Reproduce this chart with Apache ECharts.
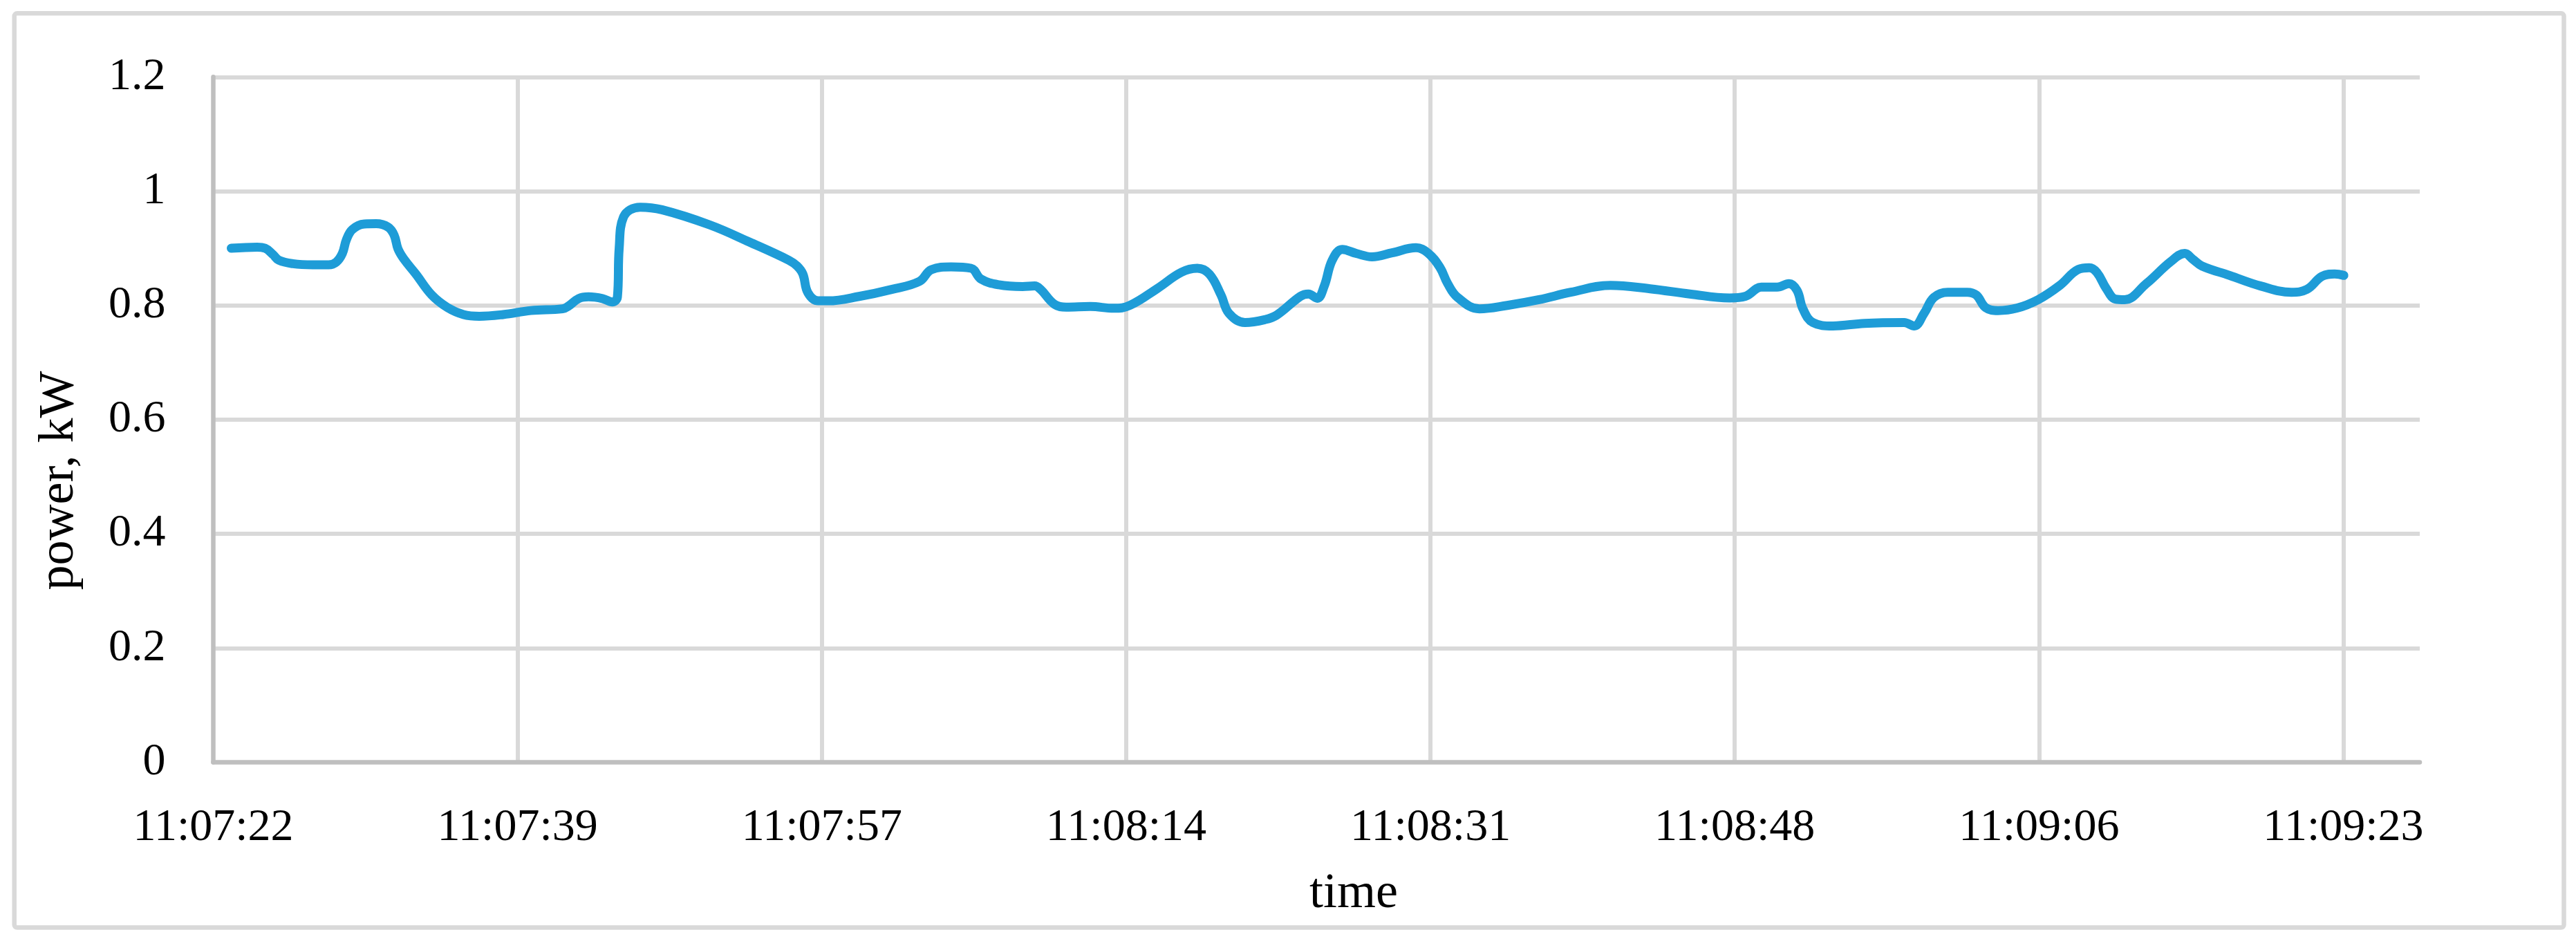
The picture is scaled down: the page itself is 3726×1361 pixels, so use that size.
<!DOCTYPE html>
<html>
<head>
<meta charset="utf-8">
<script src="https://cdn.jsdelivr.net/npm/echarts@6/dist/echarts.min.js"></script>
<style>
html,body{margin:0;padding:0;background:#fff;}
#chart{width:3726px;height:1361px;}
</style>
</head>
<body>
<div id="chart"></div>
<script>
// seconds elapsed since 11:07:22
const startClock = '11:07:22';
const timeSeconds = [
  1.02, 2.49, 2.94, 3.39, 3.73, 4.52, 5.64, 6.55, 6.99, 7.33, 7.56, 7.90,
  8.57, 9.25, 9.93, 10.27, 10.49, 10.83, 11.50, 12.41, 13.31, 14.21, 15.11,
  16.46, 18.04, 19.84, 20.18, 20.75, 21.31, 22.10, 22.66, 22.95, 23.05, 23.30,
  24.24, 25.48, 28.19, 30.44, 32.69, 33.15, 33.48, 33.77, 34.35, 34.92, 36.72,
  38.52, 40.10, 40.78, 41.90, 43.03, 43.60, 44.61, 45.96, 46.64, 46.98, 47.77,
  48.44, 49.80, 51.14, 52.05, 53.63, 54.98, 55.88, 56.56, 57.23, 57.68, 58.59,
  59.71, 60.39, 61.74, 62.19, 62.69, 63.09, 63.54, 64.11, 64.90, 65.80, 66.94,
  68.30, 68.97, 69.65, 70.10, 70.66, 71.90, 73.48, 75.29, 77.09, 79.34, 81.60,
  83.85, 86.11, 87.01, 87.91, 88.81, 89.48, 89.94, 90.27, 90.84, 91.97, 93.77,
  96.02, 96.59, 97.15, 97.71, 98.50, 99.60, 100.12, 100.65, 101.35, 102.40,
  103.63, 104.86, 105.91, 106.53, 106.96, 107.49, 108.02, 108.54, 109.77,
  111.17, 111.96, 112.40, 112.93, 114.50, 116.26, 118.01, 118.89, 119.76,
  120.47, 120.99
];
const powerKW = [
  0.900, 0.902, 0.900, 0.889, 0.879, 0.873, 0.871, 0.871, 0.876, 0.891, 0.915, 0.933,
  0.9425, 0.943, 0.937, 0.923, 0.899, 0.881, 0.855, 0.818, 0.796, 0.784, 0.781,
  0.784, 0.791, 0.794, 0.799, 0.812, 0.815, 0.812, 0.806, 0.815, 0.900, 0.955,
  0.972, 0.9675, 0.941, 0.911, 0.879, 0.869, 0.855, 0.822, 0.808, 0.808, 0.816,
  0.828, 0.842, 0.8626, 0.8675, 0.865, 0.846, 0.836, 0.833, 0.834, 0.828, 0.802,
  0.797, 0.798, 0.795, 0.800, 0.830, 0.858, 0.865, 0.855, 0.818, 0.786, 0.770,
  0.775, 0.783, 0.816, 0.820, 0.8125, 0.834, 0.879, 0.898, 0.891, 0.885, 0.892,
  0.901, 0.892, 0.867, 0.838, 0.814, 0.794, 0.800, 0.810, 0.823, 0.835, 0.829,
  0.820, 0.813, 0.816, 0.832, 0.832, 0.838, 0.826, 0.794, 0.770, 0.764, 0.7686,
  0.770, 0.764, 0.786, 0.814, 0.823, 0.823, 0.818, 0.796, 0.791, 0.795,
  0.810, 0.835, 0.863, 0.866, 0.858, 0.830, 0.811, 0.810, 0.838,
  0.877, 0.891, 0.881, 0.869, 0.8525, 0.834, 0.823, 0.828, 0.851,
  0.855, 0.8525
];
const xAxisRange = [0, 125.3];
const xTickStep = 17.28;   // 0.0002 day
const yTicks = [0, 0.2, 0.4, 0.6, 0.8, 1, 1.2];
const xTitle = 'time';
const yTitle = 'power, kW';

function clockToSec(s){const p=s.split(':').map(Number);return p[0]*3600+p[1]*60+p[2];}
const base = clockToSec(startClock);
function pad(n){return (n<10?'0':'')+n;}
function fmtClock(v){
  const s = Math.round(base + v);
  return Math.floor(s/3600) + ':' + pad(Math.floor(s%3600/60)) + ':' + pad(s%60);
}

const FONT = '"Liberation Serif", "DejaVu Serif", serif';
const chart = echarts.init(document.getElementById('chart'), null, {renderer:'canvas'});
const data = timeSeconds.map((t,i)=>[t, powerKW[i]]);

chart.setOption({
  animation:false,
  backgroundColor:'#ffffff',
  grid:{left:308.5, right:226, top:111.3, bottom:258.5},
  xAxis:{
    type:'value', min:xAxisRange[0], max:xAxisRange[1], interval:xTickStep,
    axisLine:{show:true, lineStyle:{color:'#bfbfbf', width:6.5}},
    axisTick:{show:false},
    splitLine:{show:true, showMinLine:false, showMaxLine:false, lineStyle:{color:'#d9d9d9', width:6}},
    axisLabel:{color:'#000', fontFamily:FONT, fontSize:66, margin:62, showMaxLabel:false,
      formatter:function(v){return fmtClock(v);}}
  },
  yAxis:{
    type:'value', min:yTicks[0], max:yTicks[yTicks.length-1], interval:yTicks[1]-yTicks[0],
    axisLine:{show:true, lineStyle:{color:'#bfbfbf', width:6.5}},
    axisTick:{show:false},
    splitLine:{show:true, showMinLine:false, lineStyle:{color:'#d9d9d9', width:6}},
    axisLabel:{color:'#000', fontFamily:FONT, fontSize:66, margin:69,
      formatter:function(v){return String(Math.round(v*10)/10);}}
  },
  series:[{
    type:'line', data:data, showSymbol:false, smooth:0.4,
    lineStyle:{color:'#1e9cd7', width:13, cap:'round', join:'round'},
    z:5
  }],
  graphic:[
    {type:'rect', shape:{x:20.7, y:19.3, width:3687.8, height:1322.2, r:4},
      style:{fill:'none', stroke:'#d9d9d9', lineWidth:6.5}, z:-1},
    {type:'text', x:1958, y:1293, style:{text:xTitle, font:'72px '+FONT, fill:'#000', align:'center', verticalAlign:'middle'}},
    {type:'text', x:86, y:695, rotation:Math.PI/2, style:{text:yTitle, font:'72px '+FONT, fill:'#000', align:'center', verticalAlign:'middle'}}
  ]
});
</script>
</body>
</html>
